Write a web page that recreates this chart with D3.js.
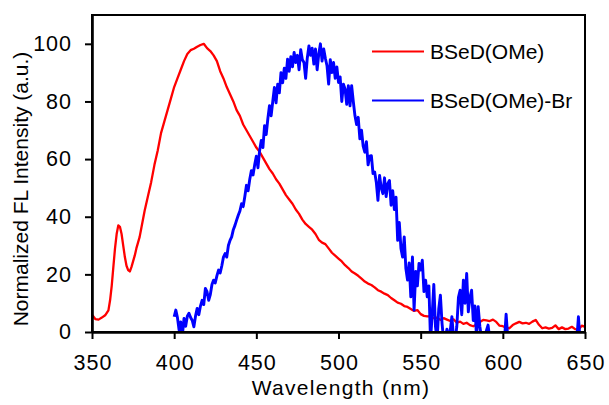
<!DOCTYPE html>
<html>
<head>
<meta charset="utf-8">
<script src="https://cdn.jsdelivr.net/npm/d3@7/dist/d3.min.js"></script>
<style>
  body { margin: 0; background: #fff; }
  text { font-family: "Liberation Sans", Arial, sans-serif; fill: #000; }
</style>
</head>
<body>
<div id="chart"></div>
<script>
// series names and tick values
var seriesNames = ["BSeD(OMe)", "BSeD(OMe)-Br"];
var xTicks = [350, 400, 450, 500, 550, 600, 650];
var yTicks = [0, 20, 40, 60, 80, 100];

// [wavelength, intensity]
var redData = [
  [350, 6.0], [352, 4.5], [354, 4.3], [356, 5.0], [358, 5.8], [360, 7.5], [361, 11], [362, 16],
  [363, 22.6], [364, 29], [365, 34], [366, 37], [367, 36.5], [368, 34], [369, 30], [370, 26],
  [371, 23], [372, 21.5], [373, 21], [374, 22.5], [375, 24.5], [376, 26.5], [377, 29], [378, 31],
  [379, 33], [380, 36], [382, 42], [384, 47], [386, 52], [388, 58], [390, 63], [392, 69],
  [394, 73], [396, 77], [398, 81], [400, 85], [402, 88], [404, 91], [406, 94], [408, 96.5],
  [410, 97.8], [412, 98.3], [414, 99], [416, 99.6], [418, 100], [420, 98.5], [422, 97.5], [424, 96],
  [426, 94], [428, 90.5], [430, 88], [432, 85], [434, 82.5], [436, 80], [438, 77], [440, 75],
  [442, 72], [444, 70], [446, 68], [448, 66], [450, 64], [452, 62.5], [454, 60.5], [456, 58.5],
  [458, 56.5], [460, 55], [462, 53], [464, 51.5], [466, 49.5], [468, 47.5], [470, 46], [472, 44.5],
  [474, 42.5], [476, 41], [478, 39], [480, 37.5], [482, 36.5], [484, 35.5], [486, 34], [488, 32],
  [490, 31], [492, 30.5], [494, 29], [496, 27.5], [498, 26.5], [500, 25.5], [502, 24.5], [504, 23.2],
  [506, 22.2], [508, 21], [510, 20.3], [512, 19.5], [514, 18.5], [516, 17.5], [518, 16.8], [520, 16.3],
  [522, 15.5], [524, 14.5], [526, 14], [528, 13.3], [530, 12.8], [532, 11.8], [534, 11], [536, 10.2],
  [538, 9.8], [540, 9], [542, 8.7], [544, 8], [546, 7.3], [548, 7.6], [550, 6.2], [552, 5.6],
  [554, 5.4], [556, 5.5], [558, 4.8], [560, 5], [562, 4.2], [564, 4.8], [566, 4.3], [568, 3.8],
  [570, 4.4], [572, 3.2], [574, 3.6], [576, 2.8], [578, 3.2], [580, 2.4], [582, 2.0], [584, 2.6],
  [586, 3.5], [588, 4.2], [590, 4.0], [592, 3.8], [594, 4.3], [596, 3.5], [598, 2.2], [600, 2.0],
  [602, 1.5], [604, 1.3], [606, 2.4], [608, 3.0], [610, 3.5], [612, 3.0], [614, 3.2], [616, 2.8],
  [618, 3.6], [620, 4.2], [622, 2.5], [624, 1.3], [626, 1.6], [628, 1.2], [630, 1.4], [632, 2.3],
  [634, 1.0], [636, 1.6], [638, 1.0], [640, 1.2], [642, 1.8], [644, 1.0], [646, 0.8], [648, 2.2],
  [650, 1.8]
];

var blueData = [
  [400, 5.3], [401, 7.6], [402, 5.0], [403, 0.7], [404, 3.5], [405, -1], [406, 4.7], [407, 2.0],
  [408, 5.5], [409, 6.5], [410, 5.0], [411, 4.0], [412, 1.8], [413, 5.5], [414, 8.2], [415, 6.0],
  [416, 9.0], [417, 11.0], [418, 9.5], [419, 15.1], [420, 14.0], [421, 11.0], [422, 13.0], [423, 16.5],
  [424, 18.0], [425, 17.0], [426, 19.5], [427, 21.5], [428, 20.5], [429, 23.0], [430, 26.0], [431, 27.2],
  [432, 26.0], [433, 30.0], [434, 31.8], [435, 33.0], [436, 35.5], [437, 37.0], [438, 38.8], [439, 40.5],
  [440, 42.0], [441, 44.5], [442, 43.5], [443, 47.0], [444, 50.9], [445, 49.0], [446, 53.0], [447, 56.0],
  [448, 54.5], [449, 58.0], [450, 61.0], [451, 57.0], [452, 63.0], [453, 66.5], [454, 64.0], [455, 71.6],
  [456, 68.5], [457, 74.0], [458, 78.5], [459, 75.0], [460, 80.0], [461, 84.9], [462, 79.5], [463, 86.0],
  [464, 83.0], [465, 90.0], [466, 86.5], [467, 91.5], [468, 88.0], [469, 94.7], [470, 90.5], [471, 95.5],
  [472, 92.0], [473, 97.0], [474, 93.5], [475, 96.0], [476, 91.0], [477, 98.0], [478, 94.5], [479, 93.5],
  [480, 88.0], [481, 95.0], [482, 99.3], [483, 96.0], [484, 98.5], [485, 93.0], [486, 98.2], [487, 91.0],
  [488, 96.5], [489, 100.0], [490, 94.0], [491, 98.2], [492, 95.0], [493, 92.4], [494, 86.0], [495, 94.5],
  [496, 90.0], [497, 93.5], [498, 88.0], [499, 92.0], [500, 86.6], [501, 88.5], [502, 80.0], [503, 86.0],
  [504, 84.3], [505, 79.0], [506, 85.5], [507, 78.5], [508, 85.5], [509, 80.0], [510, 75.1], [511, 72.0],
  [512, 74.5], [513, 67.0], [514, 70.0], [515, 64.5], [516, 62.4], [517, 66.0], [518, 58.0], [519, 61.0],
  [520, 61.2], [521, 55.0], [522, 55.5], [523, 52.0], [524, 45.7], [525, 54.3], [526, 50.0], [527, 48.0],
  [528, 53.5], [529, 47.0], [530, 51.5], [531, 52.6], [532, 44.0], [533, 49.0], [534, 42.5], [535, 46.8],
  [536, 31.8], [537, 38.0], [538, 29.0], [539, 26.0], [540, 33.0], [541, 22.0], [542, 18.0], [543, 24.0],
  [544, 12.2], [545, 26.0], [546, 7.6], [547, 21.0], [548, 16.0], [549, 23.8], [550, 21.5], [551, 24.9],
  [552, 14.0], [553, 18.0], [554, 12.2], [555, 16.0], [556, -3], [557, 6.0], [558, 16.5], [559, 2.0],
  [560, -3], [561, 8.0], [562, 12.8], [563, 3.0], [564, -3], [565, -2], [566, 1.0], [567, -2],
  [568, 0.5], [569, 5.3], [570, -2], [571, -3], [572, 2.0], [573, 12.0], [574, 14.5], [575, 6.0],
  [576, 18.0], [577, 10.0], [578, 20.3], [579, 7.0], [580, 12.0], [581, 14.5], [582, 4.0], [583, 9.0],
  [584, -2], [585, 8.8], [586, 2.0], [587, -2], [588, -1], [589, -3], [590, 0.5], [591, 2.4],
  [592, -2], [596, -3], [601, -3], [602, 6.2], [603, -2], [610, -3], [620, -3], [630, -3],
  [640, -3], [645, -3], [646, 5.3], [647, -3], [650, -3]
];

var svgWidth = 609;
var svgHeight = 405;
var plot = { left: 92, right: 585, top: 15, bottom: 332 };

var svg = d3.select("#chart")
    .append("svg")
    .attr("width", svgWidth)
    .attr("height", svgHeight);

var x = d3.scaleLinear().domain([350, 650]).range([plot.left, plot.right]);
var y = d3.scaleLinear().domain([0, 110]).range([plot.bottom, plot.top]);

svg.append("clipPath").attr("id", "plotClip")
    .append("rect")
    .attr("x", plot.left).attr("y", plot.top)
    .attr("width", plot.right - plot.left).attr("height", plot.bottom - plot.top);

var line = d3.line().x(d => x(d[0])).y(d => y(d[1]));

var curves = svg.append("g").attr("clip-path", "url(#plotClip)");
curves.append("path").datum(redData)
    .attr("d", line).attr("fill", "none")
    .attr("stroke", "#ff0000").attr("stroke-width", 2.3).attr("stroke-linejoin", "round");
curves.append("path").datum(blueData)
    .attr("d", line).attr("fill", "none")
    .attr("stroke", "#0000ff").attr("stroke-width", 2.9).attr("stroke-linejoin", "round");

// frame
svg.append("rect")
    .attr("x", plot.left).attr("y", plot.top)
    .attr("width", plot.right - plot.left).attr("height", plot.bottom - plot.top)
    .attr("fill", "none").attr("stroke", "#000").attr("stroke-width", 2);

var xAxis = d3.axisBottom(x).tickValues(xTicks).tickSize(7).tickSizeOuter(0).tickPadding(16);
var yAxis = d3.axisLeft(y).tickValues(yTicks).tickSize(7).tickSizeOuter(0).tickPadding(13);

var gx = svg.append("g").attr("transform", `translate(0, ${plot.bottom})`).call(xAxis);
var gy = svg.append("g").attr("transform", `translate(${plot.left}, 0)`).call(yAxis);

[gx, gy].forEach(g => {
    g.select(".domain").attr("stroke", "#000").attr("stroke-width", 2.6);
    g.selectAll(".tick line").attr("stroke", "#000").attr("stroke-width", 2);
    g.selectAll(".tick text")
        .style("font-family", "'Liberation Sans', Arial, sans-serif")
        .style("font-size", "21.5px")
        .style("letter-spacing", "1px")
        .attr("fill", "#000");
});
gx.selectAll(".tick text").attr("dx", "0.5px");

svg.append("text")
    .attr("x", 341).attr("y", 395)
    .attr("text-anchor", "middle")
    .style("font-size", "21px").style("letter-spacing", "1.3px")
    .text("Wavelength (nm)");

svg.append("text")
    .attr("transform", "translate(28, 189) rotate(-90)")
    .attr("text-anchor", "middle")
    .style("font-size", "21px")
    .text("Normalized FL Intensity (a.u.)");

// legend
var legendColors = ["#ff0000", "#0000ff"];
var legendY = [51.5, 100.5];
seriesNames.forEach((name, i) => {
    svg.append("line")
        .attr("x1", 372).attr("x2", 424)
        .attr("y1", legendY[i]).attr("y2", legendY[i])
        .attr("stroke", legendColors[i]).attr("stroke-width", 2);
    svg.append("text")
        .attr("x", 430).attr("y", legendY[i] + 7)
        .style("font-size", "21px")
        .text(name);
});
</script>
</body>
</html>
